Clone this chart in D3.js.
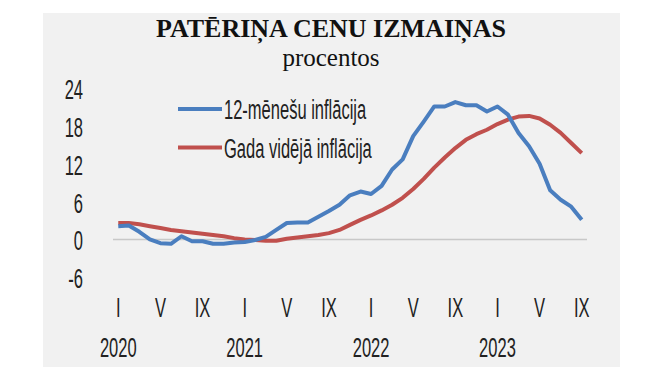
<!DOCTYPE html>
<html lang="lv">
<head>
<meta charset="UTF-8">
<title>Patēriņa cenu izmaiņas</title>
<script src="https://d3js.org/d3.v7.min.js"></script>
<style>
  body { margin: 0; background: #fff; }
  svg { display: block; }
  .cond {
    font-family: "Liberation Sans", Arial, sans-serif;
    font-size: 28px;
    fill: #222;
  }
  .title { font-family: "Liberation Serif", "Times New Roman", serif; fill: #111; }
</style>
</head>
<body>
<svg id="chart" width="665" height="375"></svg>
<script>
// months from 2020 I to 2023 IX
const years = [2020, 2021, 2022, 2023];
const romanMonths = ["I", "II", "III", "IV", "V", "VI", "VII", "VIII", "IX", "X", "XI", "XII"];
const shownMonths = ["I", "V", "IX"];
const yTicks = [-6, 0, 6, 12, 18, 24];

// 12-month inflation, %
const inflation12m = [
  2.1, 2.2, 1.2, 0.0, -0.6, -0.7, 0.5, -0.3, -0.3, -0.7, -0.7, -0.5,
  -0.4, -0.1, 0.4, 1.5, 2.6, 2.7, 2.7, 3.6, 4.5, 5.5, 7.0, 7.6,
  7.2, 8.5, 11.1, 12.7, 16.4, 18.7, 21.1, 21.1, 21.8, 21.3, 21.3, 20.3,
  21.1, 19.8, 16.9, 14.8, 12.0, 7.8, 6.3, 5.2, 3.1
];
// annual average inflation, %
const inflationAvg = [
  2.6, 2.6, 2.4, 2.1, 1.8, 1.5, 1.3, 1.1, 0.9, 0.7, 0.5, 0.2,
  0.0, -0.1, -0.2, -0.2, 0.1, 0.3, 0.5, 0.7, 1.0, 1.5, 2.3, 3.1,
  3.8, 4.6, 5.5, 6.6, 8.0, 9.6, 11.4, 13.0, 14.5, 15.8, 16.7, 17.4,
  18.3, 19.0, 19.5, 19.6, 19.2, 18.2, 16.9, 15.3, 13.7
];

const periods = inflation12m.map((v, i) => ({
  year: years[0] + Math.floor(i / 12),
  month: romanMonths[i % 12],
  key: i
}));

const svg = d3.select("#chart");

svg.append("rect")
  .attr("x", 43).attr("y", 13)
  .attr("width", 577).attr("height", 354)
  .attr("fill", "#f1f1f1");

// title
svg.append("text")
  .attr("class", "title")
  .attr("x", 331).attr("y", 37)
  .attr("text-anchor", "middle")
  .style("font-size", "26px")
  .style("font-weight", "bold")
  .text("PATĒRIŅA CENU IZMAIŅAS");

svg.append("text")
  .attr("class", "title")
  .attr("x", 331).attr("y", 66)
  .attr("text-anchor", "middle")
  .style("font-size", "25px")
  .text("procentos");

const x = d3.scaleBand()
  .domain(periods.map(d => d.key))
  .range([113, 587]);
const cx = i => x(i) + x.bandwidth() / 2;

const y = d3.scaleLinear()
  .domain([-6, 24])
  .range([277.2, 88.2]);

// condensed text helper (the original uses a narrow face)
function condText(g, tx, ty, str, anchor) {
  return g.append("text")
    .attr("class", "cond")
    .attr("transform", `translate(${tx},${ty}) scale(0.59,1)`)
    .attr("text-anchor", anchor)
    .attr("dy", "0.36em")
    .text(str);
}

// y axis labels
yTicks.forEach(t => condText(svg, 83, y(t) + 1, t, "end"));

// zero line
svg.append("line")
  .attr("x1", x.range()[0]).attr("x2", x.range()[1])
  .attr("y1", y(0)).attr("y2", y(0))
  .attr("stroke", "#c8c8c8")
  .attr("stroke-width", 1.5);

// x axis labels
periods.filter(d => shownMonths.includes(d.month))
  .forEach(d => condText(svg, cx(d.key), 307, d.month, "middle"));
periods.filter(d => d.month === "I")
  .forEach(d => condText(svg, cx(d.key), 347, d.year, "middle"));

const line = d3.line()
  .x((d, i) => cx(i))
  .y(d => y(d));

svg.append("path")
  .datum(inflationAvg)
  .attr("d", line)
  .attr("fill", "none")
  .attr("stroke", "#c0504d")
  .attr("stroke-width", 4)
  .attr("stroke-linejoin", "round");

svg.append("path")
  .datum(inflation12m)
  .attr("d", line)
  .attr("fill", "none")
  .attr("stroke", "#4a7ebf")
  .attr("stroke-width", 4)
  .attr("stroke-linejoin", "round");

// legend
const legend = [
  { name: "12-mēnešu inflācija", color: "#4a7ebf", y: 109 },
  { name: "Gada vidējā inflācija", color: "#c0504d", y: 147.5 }
];
legend.forEach(l => {
  svg.append("line")
    .attr("x1", 178).attr("x2", 222)
    .attr("y1", l.y).attr("y2", l.y)
    .attr("stroke", l.color)
    .attr("stroke-width", 4);
  condText(svg, 224, l.y, l.name, "start");
});
</script>
</body>
</html>
